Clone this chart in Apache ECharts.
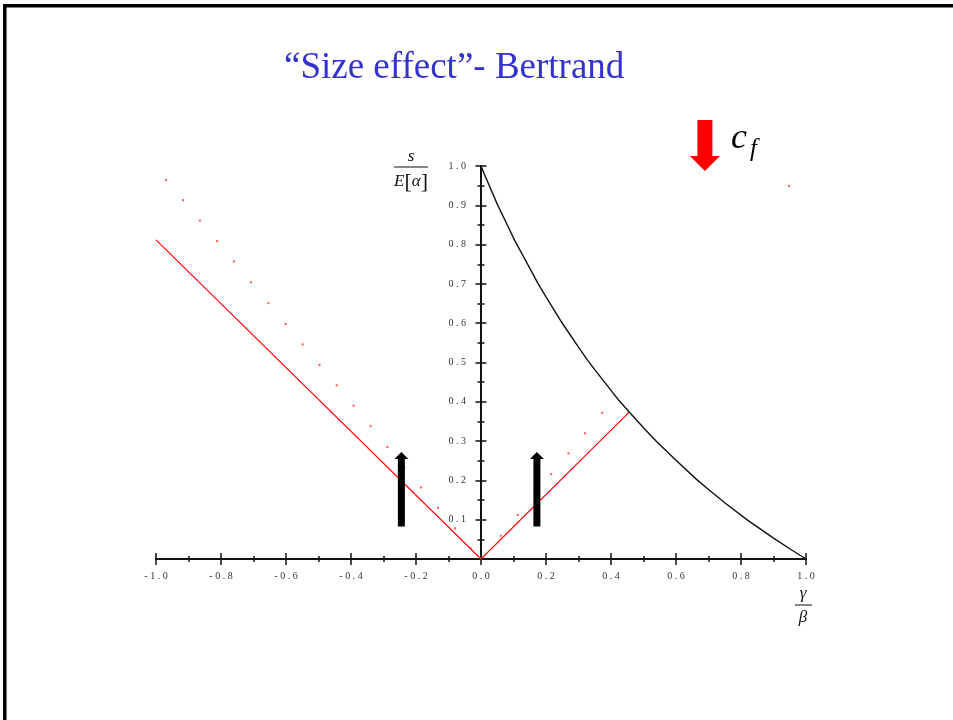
<!DOCTYPE html>
<html>
<head>
<meta charset="utf-8">
<script src="https://cdn.jsdelivr.net/npm/echarts@6/dist/echarts.min.js"></script>
<style>
  html, body { margin: 0; padding: 0; background: #fff; }
  #chart { width: 953px; height: 720px; }
</style>
</head>
<body>
<div id="chart"></div>
<script>
// Axis ranges (gamma/beta horizontally, s/E[alpha] vertically)
const xRange = [-1.0, 1.0];
const xStep = 0.2;
const yRange = [0.0, 1.0];
const yStep = 0.1;

// Upper boundary curve
const boundaryX = [0.000, 0.010, 0.025, 0.050, 0.075, 0.104, 0.150, 0.176, 0.200, 0.246, 0.300,
                   0.326, 0.350, 0.400, 0.422, 0.456, 0.500, 0.540, 0.600, 0.664, 0.700, 0.750,
                   0.820, 0.900, 0.950, 1.000];
const boundaryY = [1.000, 0.980, 0.951, 0.903, 0.860, 0.810, 0.740, 0.700, 0.667, 0.605, 0.539,
                   0.508, 0.482, 0.429, 0.406, 0.374, 0.334, 0.299, 0.251, 0.202, 0.177, 0.143,
                   0.099, 0.053, 0.026, 0.000];

// Bertrand equilibrium line (red)
const bertrandX = [-1.000, 0.000, 0.456];
const bertrandY = [0.812, 0.000, 0.374];

// Dotted reference points (red)
const dotsX = [-0.969, -0.917, -0.865, -0.812, -0.760, -0.708, -0.654, -0.601, -0.549, -0.497,
               -0.444, -0.392, -0.340, -0.288, -0.236, -0.185, -0.132, -0.080, -0.032,
               0.061, 0.113, 0.165, 0.216, 0.269, 0.320, 0.373, 0.948];
const dotsY = [0.964, 0.913, 0.861, 0.809, 0.757, 0.704, 0.651, 0.598, 0.546, 0.494,
               0.442, 0.390, 0.338, 0.285, 0.234, 0.182, 0.130, 0.078, 0.027,
               0.059, 0.112, 0.165, 0.216, 0.269, 0.320, 0.372, 0.949];

// Arrows: [x, tail y, head y]
const upArrows = [[-0.245, 0.083, 0.272], [0.172, 0.083, 0.272]];
const costArrow = [[0.689, 1.117, 0.987]];

const zip = (xs, ys) => xs.map((x, i) => [x, ys[i]]);
const spaced = v => {
  if (Math.abs(v) < 1e-9) return '0 . 0';
  return v.toFixed(1).split('').join(' ');
};

const serif = "'Liberation Serif', 'DejaVu Serif', serif";
const labelStyle = { fontFamily: serif, fontSize: 10, color: '#333' };
const axisInk = { color: '#111', width: 2 };

const gridBox = { left: 156, right: 147, top: 166, bottom: 161 };
const plotWidth = 953 - gridBox.left - gridBox.right;
// the vertical axis sits where x = 0
const yAxisShift = -plotWidth * (0 - xRange[0]) / (xRange[1] - xRange[0]);

function arrowRenderer(halfShaft, halfHead, headLen, color) {
  return function (params, api) {
    const b = api.coord([api.value(0), api.value(1)]);
    const t = api.coord([api.value(0), api.value(2)]);
    const dir = t[1] < b[1] ? 1 : -1;
    const hy = t[1] + dir * headLen;
    const cx = b[0];
    return {
      type: 'polygon',
      shape: { points: [
        [cx - halfShaft, b[1]], [cx - halfShaft, hy], [cx - halfHead, hy],
        [cx, t[1]],
        [cx + halfHead, hy], [cx + halfShaft, hy], [cx + halfShaft, b[1]]
      ] },
      style: { fill: color }
    };
  };
}

function xAxisDef(inside, withLabels) {
  return {
    type: 'value', position: 'bottom', min: xRange[0], max: xRange[1], interval: xStep,
    axisLine: { show: true, onZero: false, lineStyle: axisInk },
    axisTick: { show: true, inside: inside, length: 6, lineStyle: { color: '#111', width: 1.5 } },
    minorTick: { show: true, splitNumber: 2, length: 3, lineStyle: { color: '#111', width: 1.5 } },
    axisLabel: Object.assign({ show: withLabels, margin: 12, formatter: spaced }, labelStyle),
    splitLine: { show: false }, minorSplitLine: { show: false }
  };
}
function yAxisDef(inside, withLabels) {
  return {
    type: 'value', position: 'left', offset: yAxisShift,
    min: yRange[0], max: yRange[1], interval: yStep,
    axisLine: { show: true, onZero: false, lineStyle: axisInk },
    axisTick: { show: true, inside: inside, length: 5.5, lineStyle: { color: '#111', width: 1.5 } },
    minorTick: { show: true, splitNumber: 2, length: 3.5, lineStyle: { color: '#111', width: 1.5 } },
    axisLabel: Object.assign({ show: withLabels, margin: 15,
      formatter: v => (Math.abs(v) < 1e-9 ? '' : spaced(v)) }, labelStyle),
    splitLine: { show: false }, minorSplitLine: { show: false }
  };
}

const chart = echarts.init(document.getElementById('chart'), null, { renderer: 'canvas' });
chart.setOption({
  backgroundColor: '#fff',
  animation: false,
  title: {
    text: '\u201CSize effect\u201D- Bertrand',
    left: 279, top: 45,
    textStyle: { fontFamily: serif, fontSize: 37, fontWeight: 'normal', color: '#3333cc' }
  },
  grid: Object.assign({ containLabel: false }, gridBox),
  xAxis: [xAxisDef(false, true), xAxisDef(true, false)],
  yAxis: [yAxisDef(false, true), yAxisDef(true, false)],
  series: [
    {
      type: 'line', name: 'boundary', data: zip(boundaryX, boundaryY),
      smooth: false, showSymbol: false,
      lineStyle: { color: '#111', width: 1.4 }, z: 3
    },
    {
      type: 'line', name: 'bertrand', data: zip(bertrandX, bertrandY),
      showSymbol: false, lineStyle: { color: '#ff0000', width: 1.1 }, z: 3
    },
    {
      type: 'scatter', name: 'dots', data: zip(dotsX, dotsY),
      symbol: 'rect', symbolSize: 2, itemStyle: { color: '#ff3030' }, z: 2
    },
    {
      type: 'custom', name: 'arrows', coordinateSystem: 'cartesian2d',
      data: upArrows, renderItem: arrowRenderer(3.5, 7, 7, '#000'), z: 5
    },
    {
      type: 'custom', name: 'cost', coordinateSystem: 'cartesian2d', clip: false,
      data: costArrow, renderItem: arrowRenderer(7.5, 15, 15, '#ff0000'), z: 5
    }
  ],
  graphic: [
    {
      type: 'rect', silent: true, z: 10,
      shape: { x: 4.8, y: 5.8, width: 1400, height: 1400 },
      style: { fill: 'none', stroke: '#000', lineWidth: 3.5 }
    },
    // vertical axis name: s / E[alpha]
    { type: 'text', x: 411, y: 157, style: { text: 's', fontFamily: serif, fontStyle: 'italic', fontSize: 17, fill: '#111', align: 'center', verticalAlign: 'middle' } },
    { type: 'line', shape: { x1: 394, y1: 167, x2: 428, y2: 167 }, style: { stroke: '#111', lineWidth: 1 } },
    { type: 'text', x: 411, y: 182, style: {
        text: '{e|E}{b|[}{a|\u03B1}{b|]}', align: 'center', verticalAlign: 'middle',
        rich: {
          e: { fontFamily: serif, fontStyle: 'italic', fontSize: 17, fill: '#111' },
          a: { fontFamily: serif, fontStyle: 'italic', fontSize: 17, fill: '#111' },
          b: { fontFamily: serif, fontSize: 22, fill: '#111' }
        } } },
    // horizontal axis name: gamma / beta
    { type: 'text', x: 803, y: 594, style: { text: '\u03B3', fontFamily: serif, fontStyle: 'italic', fontSize: 17, fill: '#111', align: 'center', verticalAlign: 'middle' } },
    { type: 'line', shape: { x1: 795, y1: 605, x2: 812, y2: 605 }, style: { stroke: '#111', lineWidth: 1 } },
    { type: 'text', x: 803, y: 618, style: { text: '\u03B2', fontFamily: serif, fontStyle: 'italic', fontSize: 17, fill: '#111', align: 'center', verticalAlign: 'middle' } },
    // cost label c_f
    { type: 'text', x: 731, y: 139, style: { text: 'c', fontFamily: serif, fontStyle: 'italic', fontSize: 36, fill: '#000', align: 'left', verticalAlign: 'middle' } },
    { type: 'text', x: 750, y: 149, style: { text: 'f', fontFamily: serif, fontStyle: 'italic', fontSize: 25, fill: '#000', align: 'left', verticalAlign: 'middle' } }
  ]
});
</script>
</body>
</html>
